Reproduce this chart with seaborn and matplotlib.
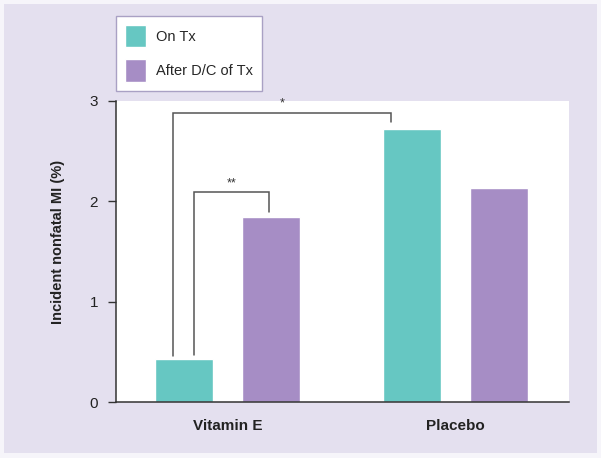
import pandas as pd
import matplotlib.pyplot as plt
import seaborn as sns
from matplotlib.patches import Rectangle

# Values
groups = ['Vitamin E', 'Placebo']
periods = ['On Tx', 'After D/C of Tx']
on_tx = [0.43, 2.72]
after_dc = [1.84, 2.13]

teal = '#66C7C2'
purple = '#A68DC5'
lavender = '#E4E0EF'
dark = '#333333'

df = pd.DataFrame({
    'group': groups * 2,
    'period': [periods[0]] * 2 + [periods[1]] * 2,
    'value': on_tx + after_dc,
})

sns.set_style('white')
plt.rcParams['font.family'] = ['Liberation Sans', 'DejaVu Sans']

fig = plt.figure(figsize=(6.01, 4.58), dpi=100)
fig.patch.set_facecolor('#F6F5FA')
fig.patches.append(Rectangle((4 / 601, 5 / 458), 593 / 601, 449 / 458,
                             transform=fig.transFigure, facecolor=lavender,
                             edgecolor='none', zorder=-5))

ax = fig.add_axes([0.193, 0.122, 0.754, 0.658])
sns.barplot(data=df, x='group', y='value', hue='period', order=groups,
            hue_order=periods, palette=[teal, purple], width=0.76, gap=0.33,
            saturation=1, errorbar=None, ax=ax)

ax.set_facecolor('white')
ax.set_xlim(-0.49, 1.5)
ax.set_ylim(0, 3)
ax.set_yticks([0, 1, 2, 3])
ax.set_xlabel('')
ax.set_ylabel('Incident nonfatal MI (%)', fontsize=10.5, fontweight='bold',
              color='#222222')
ax.yaxis.set_label_coords(-0.112, 0.53)
for s in ['top', 'right']:
    ax.spines[s].set_visible(False)
for s in ['left', 'bottom']:
    ax.spines[s].set_color(dark)
    ax.spines[s].set_linewidth(1.1)
ax.tick_params(axis='y', direction='out', length=6, width=1, color=dark,
               labelsize=11, pad=7, labelcolor='#222222', left=True)
ax.tick_params(axis='x', length=0, pad=12, labelcolor='#222222')
for lbl in ax.get_xticklabels():
    lbl.set_fontweight('bold')
    lbl.set_fontsize(11)

# Significance brackets, anchored to the drawn bars
vit_on, pla_on = ax.containers[0].patches
vit_after = ax.containers[1].patches[0]

def leg_x(bar, frac):
    return bar.get_x() + bar.get_width() * frac

def bracket(x1, y1, x2, y2, top, label):
    ax.plot([x1, x1, x2, x2], [y1, top, top, y2], color='#555555', lw=1.1,
            solid_joinstyle='miter', clip_on=False)
    ax.text((x1 + x2) / 2, top + 0.03, label, ha='center', va='bottom',
            fontsize=9, color='#333333')

bracket(leg_x(vit_on, 0.31), on_tx[0] + 0.03, leg_x(pla_on, 0.14),
        on_tx[1] + 0.065, 2.88, '*')
bracket(leg_x(vit_on, 0.66), on_tx[0] + 0.04, leg_x(vit_after, 0.47),
        after_dc[0] + 0.05, 2.09, '**')

handles, labels = ax.get_legend_handles_labels()
ax.get_legend().remove()
leg = fig.legend(handles, labels, loc='upper left',
                 bbox_to_anchor=(116 / 601, 1 - 16 / 458), borderaxespad=0,
                 frameon=True, fancybox=False, fontsize=10.5,
                 handlelength=1.45, handleheight=2.0, handletextpad=0.7,
                 labelspacing=0.82, borderpad=0.6)
leg.get_frame().set_edgecolor('#A9A1C4')
leg.get_frame().set_linewidth(1.0)
leg.get_frame().set_facecolor('white')
leg.get_frame().set_alpha(1)

fig.savefig('out.png', dpi=100, facecolor=fig.get_facecolor())
